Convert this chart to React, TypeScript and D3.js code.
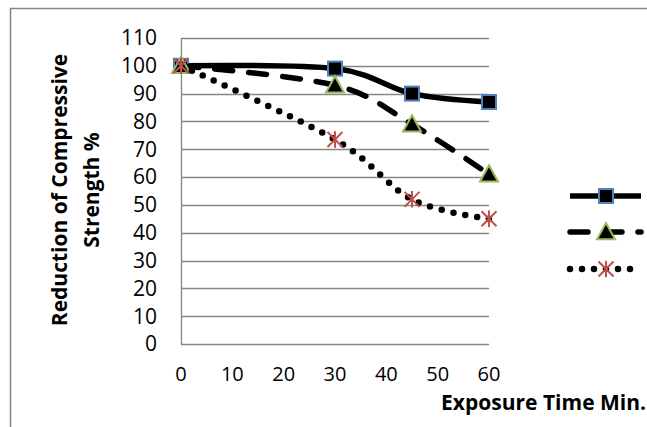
import React from "react";
import * as d3 from "d3";

const times = [0, 30, 45, 60];
const seriesSquare = [100, 99, 90, 87];
const seriesTriangle = [100, 93, 79, 61];
const seriesStar = [100, 73.5, 52, 45];
const xTicks = [0, 10, 20, 30, 40, 50, 60];
const yTicks = [0, 10, 20, 30, 40, 50, 60, 70, 80, 90, 100, 110];
const xTitle = "Exposure Time Min.";
const yTitleLines = ["Reduction of Compressive", "Strength %"];

const W = 647;
const H = 427;
const plot = { left: 181, right: 489, top: 38, bottom: 344 };
const FONT = "'Open Sans', sans-serif";
const GRID = "#868686";

export default function App() {
  const x = d3.scaleLinear().domain([0, 60]).range([plot.left, plot.right]);
  const y = d3.scaleLinear().domain([0, 110]).range([plot.bottom, plot.top]);
  const line = d3
    .line<[number, number]>()
    .x((d) => x(d[0]))
    .y((d) => y(d[1]))
    .curve(d3.curveCardinal.tension(0));

  const pts = (vals: number[]) => times.map((t, i) => [t, vals[i]] as [number, number]);

  const square = (cx: number, cy: number, k: string) => (
    <rect key={k} x={cx - 7} y={cy - 7} width={14} height={14} fill="#000" stroke="#4f81bd" strokeWidth={2} />
  );
  const triangle = (cx: number, cy: number, k: string) => {
    const s = 9;
    return (
      <path
        key={k}
        d={`M${cx},${cy - s} L${cx + s},${cy + s * 0.8} L${cx - s},${cy + s * 0.8} Z`}
        fill="#000"
        stroke="#9bbb59"
        strokeWidth={2}
      />
    );
  };
  const star = (cx: number, cy: number, k: string) => {
    const r = 7.5;
    return (
      <path
        key={k}
        d={`M${cx - r},${cy - r} L${cx + r},${cy + r} M${cx + r},${cy - r} L${cx - r},${cy + r} M${cx},${cy - r * 1.1} L${cx},${cy + r * 1.1}`}
        stroke="#c0504d"
        strokeWidth={2}
        fill="none"
      />
    );
  };

  const series = [
    { vals: seriesSquare, dash: undefined, cap: "butt", width: 5.5, marker: square },
    { vals: seriesTriangle, dash: "18 16", cap: "round", width: 5.5, marker: triangle },
    { vals: seriesStar, dash: "0 12", cap: "round", width: 6.5, marker: star },
  ];

  const legendY = [196, 232, 269];
  const legendX0 = 570;
  const legendX1 = 641;
  const legendMX = 606;

  return (
    <svg
      width={W}
      height={H}
      style={{ position: "fixed", left: 0, top: 0, background: "#fff" }}
      fontFamily={FONT}
    >
      <rect x={10.5} y={8.5} width={W + 20} height={H + 20} fill="#fff" stroke={GRID} strokeWidth={1.5} />
      {yTicks.map((t) => (
        <line key={t} x1={plot.left} x2={plot.right} y1={Math.round(y(t)) + 0.5} y2={Math.round(y(t)) + 0.5} stroke={GRID} strokeWidth={1.3} />
      ))}
      <line x1={plot.left + 0.5} x2={plot.left + 0.5} y1={plot.top} y2={plot.bottom + 1} stroke={GRID} strokeWidth={1.3} />
      {yTicks.map((t) => (
        <text key={t} x={157} y={y(t)} dy="0.35em" textAnchor="end" fontSize={21} fill="#000">
          {t}
        </text>
      ))}
      {xTicks.map((t) => (
        <text key={t} x={x(t)} y={381} textAnchor="middle" fontSize={20} fill="#000">
          {t}
        </text>
      ))}
      <text x={646} y={410} textAnchor="end" fontSize={21} fontWeight="bold" fill="#000">
        {xTitle}
      </text>
      <g transform="translate(60,190) rotate(-90)">
        <text x={0} y={0} dy="0.35em" textAnchor="middle" fontSize={21} fontWeight="bold" fill="#000">
          {yTitleLines[0]}
        </text>
        <text x={0} y={32} dy="0.35em" textAnchor="middle" fontSize={21} fontWeight="bold" fill="#000">
          {yTitleLines[1]}
        </text>
      </g>
      {series.map((s, i) => (
        <g key={i}>
          <path d={line(pts(s.vals)) || ""} fill="none" stroke="#000" strokeWidth={s.width} strokeDasharray={s.dash} strokeLinecap={s.cap as any} />
          {pts(s.vals).map((p, j) => s.marker(x(p[0]), y(p[1]), `${i}-${j}`))}
        </g>
      ))}
      {series.map((s, i) => (
        <g key={`lg${i}`}>
          <line x1={legendX0} x2={legendX1} y1={legendY[i]} y2={legendY[i]} stroke="#000" strokeWidth={s.width} strokeDasharray={s.dash} strokeLinecap={s.cap as any} />
          {s.marker(legendMX, legendY[i], `lm${i}`)}
        </g>
      ))}
    </svg>
  );
}
